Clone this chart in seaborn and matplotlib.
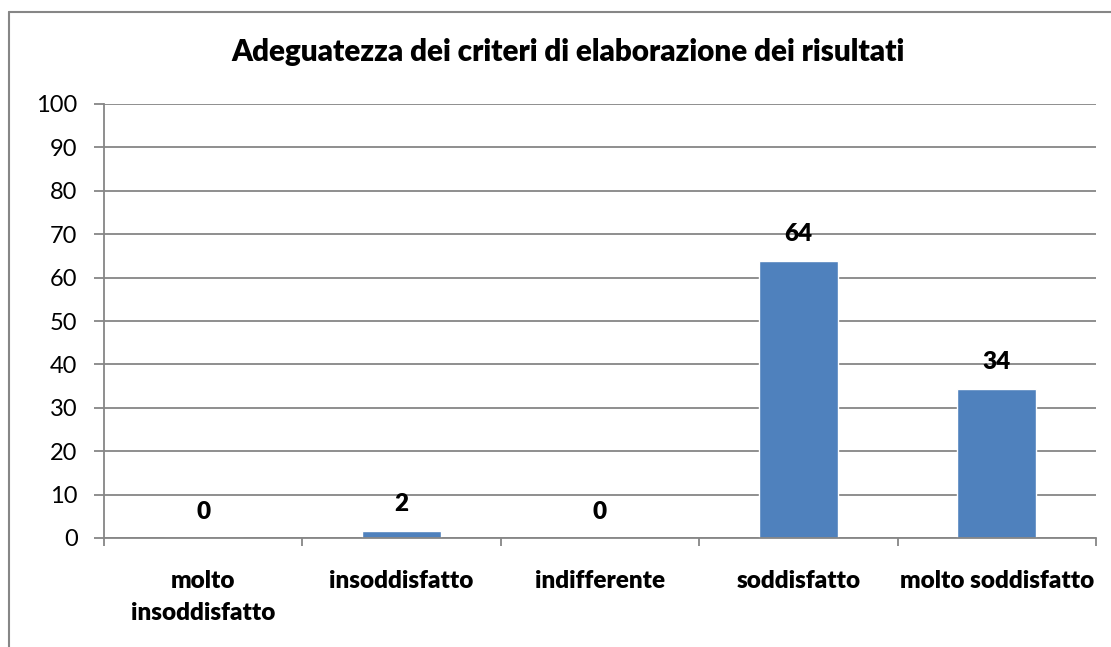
import matplotlib
matplotlib.use("Agg")
import matplotlib.pyplot as plt
from matplotlib.lines import Line2D
import seaborn as sns
import pandas as pd
import numpy as np

categories = ["molto\ninsoddisfatto", "insoddisfatto", "indifferente", "soddisfatto", "molto soddisfatto"]
values = [0, 1.7, 0, 63.9, 34.4]
labels = ["0", "2", "0", "64", "34"]
yticks = [0, 10, 20, 30, 40, 50, 60, 70, 80, 90, 100]
title = "Adeguatezza dei criteri di elaborazione dei risultati"

sns.set_theme(style="white")
plt.rcParams["font.family"] = ["Lato", "DejaVu Sans"]

W, H = 1111, 647
fig = plt.figure(figsize=(W / 100, H / 100), dpi=100)
ax = fig.add_axes([104 / W, 1 - 538 / H, (1096 - 104) / W, (538 - 104) / H])

df = pd.DataFrame({"cat": categories, "val": values})
sns.barplot(data=df, x="cat", y="val", color="#4F81BD", width=0.4, saturation=1, ax=ax)

grey = "#868686"
bw = "heavy"
ax.set_ylim(0, 100)
ax.set_xlim(-0.5, len(categories) - 0.5)
ax.set_yticks(yticks)
ax.set_yticklabels([str(t) for t in yticks], fontsize=17, color="black")
ax.yaxis.grid(True, color=grey, linewidth=1.3)
ax.set_axisbelow(True)
ax.set_xlabel("")
ax.set_ylabel("")
for s in ["top", "right"]:
    ax.spines[s].set_visible(False)
for s in ["left", "bottom"]:
    ax.spines[s].set_color(grey)
    ax.spines[s].set_linewidth(1.3)

# major ticks at category boundaries, labels at centers
ax.set_xticks(np.arange(-0.5, len(categories), 1))
ax.set_xticklabels([])
ax.set_xticks(np.arange(len(categories)), minor=True)
ax.set_xticklabels(categories, minor=True, fontsize=17.5, fontweight=bw, color="black",
                   linespacing=1.55)
ax.tick_params(axis="x", which="major", length=6, width=1.3, color=grey, bottom=True)
ax.tick_params(axis="x", which="minor", length=0, pad=23)
ax.tick_params(axis="y", length=7, width=1.3, color=grey, left=True, pad=12)
for lbl in ax.get_xticklabels(minor=True):
    lbl.set_verticalalignment("top")

for i, (v, t) in enumerate(zip(values, labels)):
    ax.annotate(t, (i, v), xytext=(0, 19), textcoords="offset points",
                ha="center", va="center", fontsize=17.5, fontweight=bw, color="black")

fig.text(568 / W, 1 - 52 / H, title, ha="center", va="center", fontsize=21.3,
         fontweight=bw, color="black")

# chart border (top and left visible)
fig.add_artist(Line2D([9 / W, 1.0], [1 - 12 / H, 1 - 12 / H], transform=fig.transFigure,
                      color=grey, linewidth=1.5))
fig.add_artist(Line2D([9 / W, 9 / W], [1 - 12 / H, 0], transform=fig.transFigure,
                      color=grey, linewidth=1.5))

fig.savefig("out.png", dpi=100)
